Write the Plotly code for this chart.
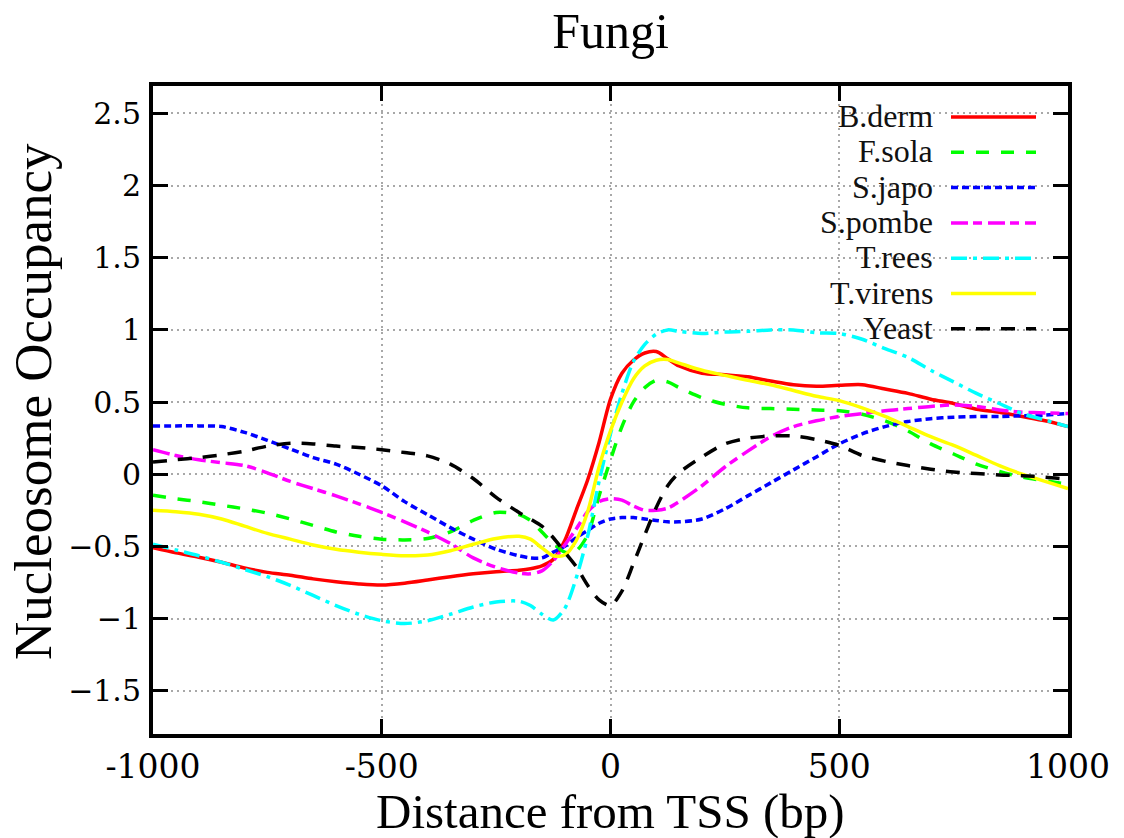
import plotly.graph_objects as go

# ---------------- data ----------------
X_BP = [-1000, -950, -900, -850, -800, -750, -700, -650, -600, -550, -500, -450,
        -400, -350, -300, -250, -200, -175, -150, -125, -100, -75, -50, -25, 0,
        25, 50, 75, 100, 125, 150, 200, 250, 300, 350, 400, 450, 500, 550, 600,
        650, 700, 750, 800, 850, 900, 950, 1000]

B_DERM = [-0.51, -0.545, -0.575, -0.61, -0.65, -0.68, -0.70, -0.725, -0.745, -0.76,
          -0.768, -0.755, -0.733, -0.71, -0.69, -0.675, -0.665, -0.655, -0.635, -0.59,
          -0.46, -0.25, -0.04, 0.22, 0.52, 0.70, 0.79, 0.84, 0.85, 0.80, 0.75, 0.70,
          0.69, 0.675, 0.646, 0.62, 0.61, 0.616, 0.62, 0.59, 0.56, 0.52, 0.49, 0.45,
          0.43, 0.40, 0.37, 0.33]

F_SOLA = [-0.145, -0.17, -0.19, -0.215, -0.24, -0.27, -0.31, -0.355, -0.40, -0.43,
          -0.45, -0.455, -0.445, -0.40, -0.32, -0.265, -0.28, -0.32, -0.40, -0.48,
          -0.54, -0.53, -0.42, -0.15, 0.10, 0.33, 0.50, 0.60, 0.65, 0.64, 0.60, 0.53,
          0.485, 0.46, 0.455, 0.45, 0.445, 0.44, 0.415, 0.37, 0.30, 0.21, 0.14, 0.07,
          0.02, -0.02, -0.045, -0.07]

S_JAPO = [0.335, 0.335, 0.335, 0.33, 0.29, 0.235, 0.175, 0.115, 0.07, 0.0, -0.08,
          -0.19, -0.28, -0.37, -0.45, -0.52, -0.565, -0.58, -0.58, -0.54, -0.50,
          -0.44, -0.39, -0.34, -0.31, -0.30, -0.30, -0.31, -0.32, -0.33, -0.33,
          -0.31, -0.24, -0.15, -0.06, 0.03, 0.12, 0.21, 0.28, 0.33, 0.365, 0.385,
          0.395, 0.40, 0.40, 0.405, 0.41, 0.42]

S_POMBE = [0.17, 0.13, 0.10, 0.08, 0.06, 0.01, -0.05, -0.10, -0.15, -0.205, -0.265,
           -0.33, -0.40, -0.48, -0.58, -0.645, -0.685, -0.69, -0.67, -0.60, -0.49,
           -0.38, -0.26, -0.19, -0.17, -0.18, -0.22, -0.25, -0.25, -0.235, -0.19,
           -0.08, 0.05, 0.16, 0.26, 0.33, 0.37, 0.40, 0.42, 0.44, 0.455, 0.47, 0.48,
           0.47, 0.445, 0.43, 0.425, 0.42]

T_REES = [-0.485, -0.525, -0.565, -0.61, -0.66, -0.71, -0.77, -0.84, -0.91, -0.97,
          -1.015, -1.035, -1.015, -0.97, -0.92, -0.885, -0.88, -0.91, -0.97, -1.01,
          -0.93, -0.72, -0.43, -0.05, 0.28, 0.56, 0.78, 0.90, 0.97, 1.0, 0.99, 0.975,
          0.985, 0.99, 1.0, 1.0, 0.98, 0.975, 0.935, 0.87, 0.81, 0.72, 0.64, 0.56,
          0.49, 0.42, 0.375, 0.33]

T_VIRENS = [-0.25, -0.26, -0.277, -0.31, -0.36, -0.41, -0.45, -0.49, -0.52, -0.54,
            -0.555, -0.565, -0.56, -0.53, -0.485, -0.445, -0.43, -0.45, -0.51, -0.565,
            -0.56, -0.46, -0.26, 0.05, 0.30, 0.50, 0.66, 0.75, 0.79, 0.795, 0.77,
            0.72, 0.685, 0.65, 0.62, 0.58, 0.54, 0.51, 0.46, 0.40, 0.33, 0.26, 0.20,
            0.13, 0.06, 0.0, -0.05, -0.10]

YEAST = [0.085, 0.10, 0.115, 0.135, 0.16, 0.195, 0.215, 0.21, 0.195, 0.185, 0.17,
         0.15, 0.127, 0.07, -0.03, -0.16, -0.265, -0.31, -0.36, -0.44, -0.54, -0.64,
         -0.77, -0.87, -0.91, -0.81, -0.62, -0.42, -0.23, -0.08, 0.01, 0.12, 0.21,
         0.25, 0.265, 0.265, 0.24, 0.20, 0.13, 0.09, 0.06, 0.035, 0.015, 0.005,
         -0.005, -0.01, -0.02, -0.035]

SERIES_NAMES = ["B.derm", "F.sola", "S.japo", "S.pombe", "T.rees", "T.virens", "Yeast"]
SERIES_VALUES = [B_DERM, F_SOLA, S_JAPO, S_POMBE, T_REES, T_VIRENS, YEAST]

X_TICK_VALS = [-1000, -500, 0, 500, 1000]
X_TICK_TEXT = ["-1000", "-500", "0", "500", "1000"]
Y_TICK_VALS = [-1.5, -1, -0.5, 0, 0.5, 1, 1.5, 2, 2.5]

# ---------------- styles ----------------
COLORS = ["#ff0000", "#00ff00", "#0000ff", "#ff00ff", "#00ffff", "#ffff00", "#000000"]
DASHES = ["solid", "13px,12px", "7px,4px", "17px,5px,9px,6px", "16px,6px,4px,6px",
          "solid", "14px,11px"]
LW = 3.5

W, H = 1124, 838
L, R, T, B = 153, 56, 86, 104
PW, PH = W - L - R, H - T - B


def px_x(px):
    return (px - L) / PW


def px_y(py):
    return (H - B - py) / PH


fig = go.Figure()
for name, vals, col, dash in zip(SERIES_NAMES, SERIES_VALUES, COLORS, DASHES):
    fig.add_trace(go.Scatter(
        x=X_BP, y=vals, name=name, mode="lines",
        line=dict(color=col, width=LW, dash=dash, shape="spline", smoothing=0.8),
        showlegend=False,
    ))

# manual legend (text right-aligned, sample on the right, like gnuplot)
shapes = []
annotations = []
for i, (name, col, dash) in enumerate(zip(SERIES_NAMES, COLORS, DASHES)):
    py = 117 + 35.3 * i
    shapes.append(dict(type="line", xref="paper", yref="paper",
                       x0=px_x(951), x1=px_x(1036), y0=px_y(py), y1=px_y(py),
                       line=dict(color=col, width=LW, dash=dash)))
    annotations.append(dict(text=name, xref="paper", yref="paper",
                            x=px_x(935), y=px_y(py - 1), xanchor="right", yanchor="middle",
                            showarrow=False,
                            font=dict(family="Liberation Serif", size=32, color="#111111")))

annotations.append(dict(text="Distance from TSS (bp)", xref="paper", yref="paper",
                        x=px_x(610), y=px_y(811), xanchor="center", yanchor="middle",
                        showarrow=False, borderpad=0,
                        font=dict(family="Liberation Serif", size=49, color="black")))
annotations.append(dict(text="Nucleosome Occupancy", xref="paper", yref="paper",
                        x=px_x(33), y=px_y(402), xanchor="center", yanchor="middle",
                        textangle=-90, showarrow=False,
                        font=dict(family="Liberation Serif", size=53, color="black")))

fig.update_layout(
    width=W, height=H,
    margin=dict(l=L, r=R, t=T, b=B, pad=0),
    paper_bgcolor="white", plot_bgcolor="white",
    title=dict(text="Fungi", x=0.5 * (L + W - R) / W, xanchor="center",
               y=1 - 30 / H, yref="container", yanchor="middle",
               font=dict(family="Liberation Serif", size=50, color="black")),
    shapes=shapes,
    annotations=annotations,
    showlegend=False,
)

fig.update_xaxes(
    range=[-1000, 1000], tickmode="array", tickvals=X_TICK_VALS, ticktext=X_TICK_TEXT,
    showline=True, linewidth=4, linecolor="black", mirror="allticks",
    ticks="inside", ticklen=15, tickwidth=3, tickcolor="black",
    showgrid=True, gridcolor="#a8a8a8", gridwidth=2, griddash="2px,4px",
    zeroline=False, ticklabelstandoff=0,
    tickfont=dict(family="DejaVu Serif, serif", size=33, color="black"),
)
fig.update_yaxes(
    range=[-1.8, 2.69], tickmode="array", tickvals=Y_TICK_VALS,
    showline=True, linewidth=4, linecolor="black", mirror="allticks",
    ticks="inside", ticklen=15, tickwidth=3, tickcolor="black",
    showgrid=True, gridcolor="#a8a8a8", gridwidth=2, griddash="2px,4px",
    zeroline=False, ticklabelstandoff=2,
    tickfont=dict(family="DejaVu Serif, serif", size=30, color="black"),
)

fig.write_html("out.html")
